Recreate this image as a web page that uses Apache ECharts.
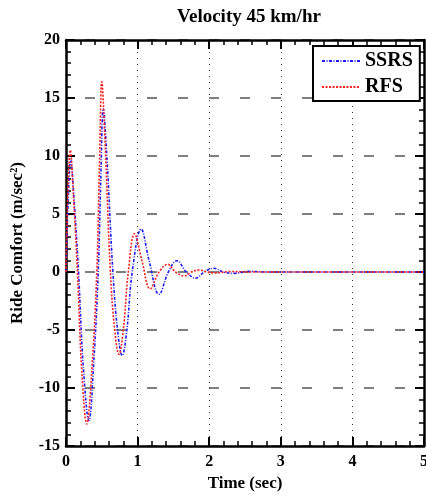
<!DOCTYPE html>
<html><head><meta charset="utf-8">
<script src="https://cdn.jsdelivr.net/npm/echarts@6/dist/echarts.min.js"></script>
<style>html,body{margin:0;padding:0;background:#fff}#c{width:426px;height:499px}</style>
</head><body><div id="c"></div>
<script>
var titleText = 'Velocity 45 km/hr';
var xName = 'Time (sec)';
var yName = 'Ride Comfort (m/sec\u00B2)';
var seriesNames = ['SSRS', 'RFS'];
var xTicks = [0, 1, 2, 3, 4, 5];
var yTicks = [-15, -10, -5, 0, 5, 10, 15, 20];

var ssrsT = [0, 0.03, 0.065, 0.11, 0.175, 0.24, 0.32, 0.39, 0.45, 0.49, 0.52, 0.57, 0.655, 0.72, 0.785, 0.85, 0.925, 1.05, 1.16, 1.30, 1.43, 1.55, 1.68, 1.81, 1.93, 2.06, 2.2, 2.35, 2.55, 2.8, 3.5, 5];
var ssrsV = [0, 6, 9.65, 6.5, 0, -8, -12.8, -7.5, 0, 9, 14.1, 10, 0, -5, -7.2, -5, 0, 3.7, 1, -1.92, 0, 0.97, 0, -0.54, 0, 0.32, 0, -0.12, 0.06, 0, 0, 0];
var rfsT = [0, 0.03, 0.06, 0.10, 0.16, 0.22, 0.29, 0.36, 0.43, 0.47, 0.50, 0.54, 0.62, 0.68, 0.74, 0.80, 0.87, 0.957, 1.06, 1.176, 1.30, 1.42, 1.53, 1.65, 1.75, 1.86, 1.97, 2.08, 2.3, 2.6, 3.5, 5];
var rfsV = [0, 7.5, 10.5, 7, 0, -8.5, -13.1, -8.5, 0, 10, 16.4, 12, 0, -5, -7.1, -5, 0, 3.3, 1, -1.45, 0, 0.66, 0, -0.34, 0, 0.17, 0, -0.08, 0.04, 0, 0, 0];

function pairs(t, v) { return t.map(function (x, i) { return [x, v[i]]; }); }

var font = 'Liberation Serif';
var chart = echarts.init(document.getElementById('c'));
function axLine() { return { show: true, onZero: false, lineStyle: { color: '#000', width: 2.5 } }; }
function tick() { return { show: true, inside: true, length: 9, lineStyle: { color: '#000', width: 2 } }; }
function minor() { return { show: true, splitNumber: 5, length: 5, lineStyle: { color: '#000', width: 1.5 } }; }
var option = {
  animation: false,
  backgroundColor: '#fff',
  title: { text: titleText, left: 172, top: 3,
    textStyle: { fontFamily: font, fontWeight: 'bold', fontSize: 19, color: '#000' } },
  grid: { left: 66, right: 2, top: 40, bottom: 53, containLabel: false, outerBoundsMode: 'none' },
  legend: {
    data: seriesNames, orient: 'vertical', left: 313, top: 46,
    itemWidth: 38, itemHeight: 10, itemGap: 6,
    padding: [5, 7, 4, 8],
    backgroundColor: '#fff', borderColor: '#000', borderWidth: 2,
    itemStyle: { opacity: 0 },
    textStyle: { fontFamily: font, fontWeight: 'bold', fontSize: 20, color: '#000' }
  },
  xAxis: [{
    type: 'value', min: xTicks[0], max: xTicks[xTicks.length - 1], interval: 1,
    name: xName, nameLocation: 'middle', nameGap: 26,
    nameTextStyle: { fontFamily: font, fontWeight: 'bold', fontSize: 17, color: '#000' },
    axisLine: axLine(), axisTick: tick(), minorTick: minor(),
    axisLabel: { fontFamily: font, fontWeight: 'bold', fontSize: 16, color: '#000', margin: 8 },
    splitLine: { show: true, lineStyle: { color: '#333', width: 1, type: [1, 5] } }
  }, {
    type: 'value', position: 'top', min: xTicks[0], max: xTicks[xTicks.length - 1], interval: 1,
    axisLine: axLine(), axisTick: tick(), minorTick: minor(),
    axisLabel: { show: false }, splitLine: { show: false }
  }],
  yAxis: [{
    type: 'value', min: yTicks[0], max: yTicks[yTicks.length - 1], interval: 5,
    name: yName, nameLocation: 'middle', nameGap: 40, nameRotate: 90,
    nameTextStyle: { fontFamily: font, fontWeight: 'bold', fontSize: 17, color: '#000' },
    axisLine: axLine(), axisTick: tick(), minorTick: minor(),
    axisLabel: { fontFamily: font, fontWeight: 'bold', fontSize: 16, color: '#000', margin: 6 },
    splitLine: { show: true, lineStyle: { color: '#555', width: 1.5, type: [10, 21], dashOffset: 12 } }
  }, {
    type: 'value', position: 'right', min: yTicks[0], max: yTicks[yTicks.length - 1], interval: 5,
    axisLine: axLine(), axisTick: tick(), minorTick: minor(),
    axisLabel: { show: false }, splitLine: { show: false }
  }],
  series: [{
    name: seriesNames[0], type: 'line', smooth: 0.4, symbol: 'none',
    data: pairs(ssrsT, ssrsV), z: 3,
    lineStyle: { color: '#1a1aff', width: 1.6, type: [3, 1.5, 1, 1.5] },
    itemStyle: { color: '#1a1aff' }
  }, {
    name: seriesNames[1], type: 'line', smooth: 0.4, symbol: 'none',
    data: pairs(rfsT, rfsV), z: 4,
    lineStyle: { color: '#ff2020', width: 1.6, type: [2, 1.5] },
    itemStyle: { color: '#ff2020' }
  }]
};
chart.setOption(option);
</script></body></html>
